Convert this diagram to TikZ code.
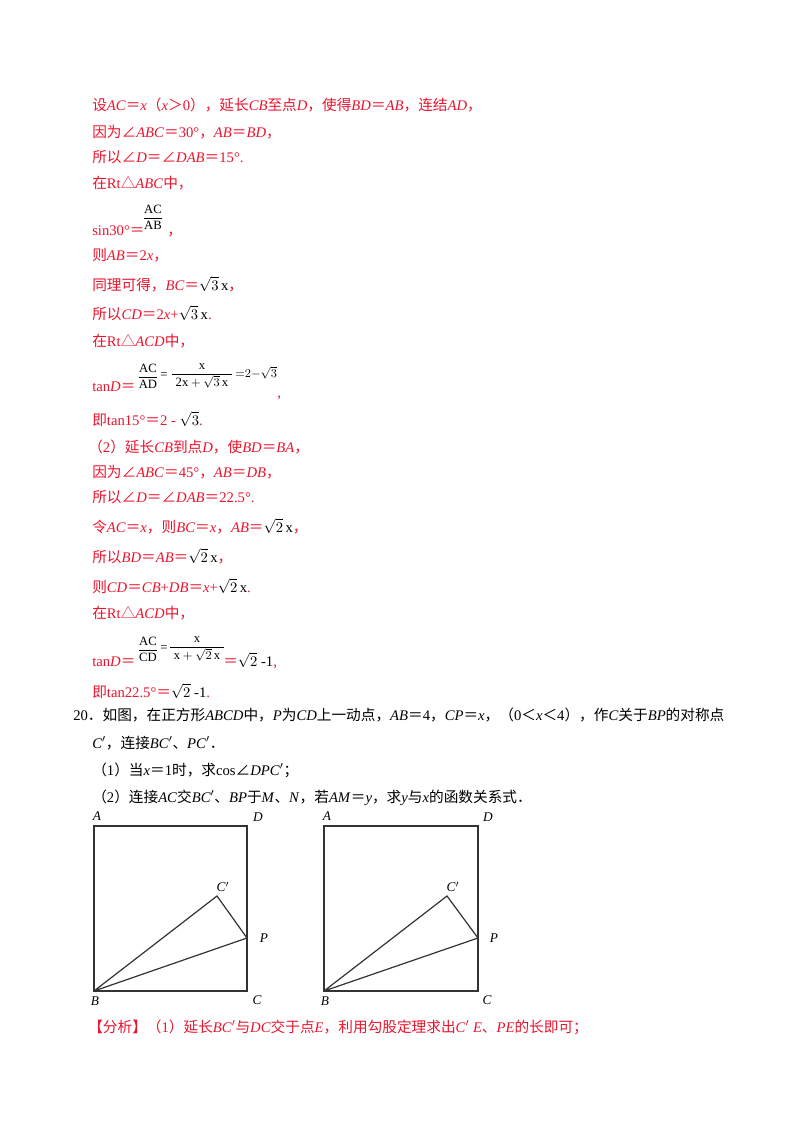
\documentclass[tikz,border=0pt]{standalone}
\usepackage{fontspec}
\setmainfont{Liberation Serif}
\newfontfamily\cjk{Noto Sans CJK SC}
\newcommand\zh[1]{{\cjk #1}}
\newcommand\zi[1]{\textit{#1}}
\newcommand\blk[1]{{\color{black}#1}}
\definecolor{ans}{RGB}{235,20,45}
\begin{document}
\begin{tikzpicture}[x=0.75pt,y=-0.75pt,
  tl/.style={anchor=base west,inner sep=0pt,font=\fontsize{11pt}{12pt}\selectfont},
  rt/.style={tl,text=ans},
  bt/.style={tl,text=black},
  fr/.style={anchor=center,inner sep=0pt,font=\fontsize{9.5pt}{10pt}\selectfont,text=black},
  lab/.style={inner sep=0pt,font=\fontsize{10pt}{12pt}\selectfont\itshape,text=black},
  edge/.style={draw=black!80,line width=0.9pt}]
\useasboundingbox (0,0) rectangle (800,1132);
\fill[white] (0,0) rectangle (800,1132);
% part 1
\node[rt] (l1) at (92,110) {\zh{设}\zi{AC}\zh{＝}\zi{x}\zh{（}\zi{x}\zh{＞}0\zh{），延长}\zi{CB}\zh{至点}\zi{D}\zh{，使得}\zi{BD}\zh{＝}\zi{AB}\zh{，连结}\zi{AD}\zh{，}};
\node[rt] (l2) at (92,137) {\zh{因为∠}\zi{ABC}\zh{＝}30°\zh{，}\zi{AB}\zh{＝}\zi{BD}\zh{，}};
\node[rt] (l3) at (92,162) {\zh{所以∠}\zi{D}\zh{＝∠}\zi{DAB}\zh{＝}15°.};
\node[rt] (l4) at (92,188) {\zh{在}Rt\zh{△}\zi{ABC}\zh{中，}};
\node[rt] (l5) at (92,235) {sin30°\zh{＝}};
\node[fr] (f1) at (153,217) {$\displaystyle\frac{\mathrm{AC}}{\mathrm{AB}}$};
\node[rt] (l5c) at (167,235) {\zh{，}};
\node[rt] (l6) at (92,260) {\zh{则}\zi{AB}\zh{＝}2\zi{x}\zh{，}};
\node[rt] (l7) at (92,290) {\zh{同理可得，}\zi{BC}\zh{＝}\blk{$\sqrt{3}$\,x}\zh{，}};
\node[rt] (l8) at (92,319) {\zh{所以}\zi{CD}\zh{＝}2\zi{x}+\blk{$\sqrt{3}$\,x}.};
\node[rt] (l9) at (92,346) {\zh{在}Rt\zh{△}\zi{ACD}\zh{中，}};
\node[rt] (l10) at (92,391) {tan\zi{D}\zh{＝}};
\node[fr] (f2a) at (148,376) {$\displaystyle\frac{\mathrm{AC}}{\mathrm{AD}}$};
\node[fr] (f2e) at (164,376) {=};
\node[fr] (f2b) at (202,376) {$\displaystyle\frac{\mathrm{x}}{\;\mathrm{2x}+\sqrt{3}\,\mathrm{x}\;}$};
\node[fr,anchor=west] (f2c) at (235,373) {${=}2{-}\sqrt{3}$};
\node[rt] (l10c) at (277,397) {,};
\node[rt] (l11) at (92,425) {\zh{即}tan15°\zh{＝}2 - \blk{$\sqrt{3}$}.};
% part 2
\node[rt] (m1) at (88,452) {\zh{（}2\zh{）延长}\zi{CB}\zh{到点}\zi{D}\zh{，使}\zi{BD}\zh{＝}\zi{BA}\zh{，}};
\node[rt] (m2) at (92,477) {\zh{因为∠}\zi{ABC}\zh{＝}45°\zh{，}\zi{AB}\zh{＝}\zi{DB}\zh{，}};
\node[rt] (m3) at (92,502) {\zh{所以∠}\zi{D}\zh{＝∠}\zi{DAB}\zh{＝}22.5°.};
\node[rt] (m4) at (92,532) {\zh{令}\zi{AC}\zh{＝}\zi{x}\zh{，则}\zi{BC}\zh{＝}\zi{x}\zh{，}\zi{AB}\zh{＝}\blk{$\sqrt{2}$\,x}\zh{，}};
\node[rt] (m5) at (92,562) {\zh{所以}\zi{BD}\zh{＝}\zi{AB}\zh{＝}\blk{$\sqrt{2}$\,x}\zh{，}};
\node[rt] (m6) at (92,592) {\zh{则}\zi{CD}\zh{＝}\zi{CB}+\zi{DB}\zh{＝}\zi{x}+\blk{$\sqrt{2}$\,x}.};
\node[rt] (m7) at (92,618) {\zh{在}Rt\zh{△}\zi{ACD}\zh{中，}};
\node[rt] (m8) at (92,666) {tan\zi{D}\zh{＝}};
\node[fr] (f3a) at (148,649) {$\displaystyle\frac{\mathrm{AC}}{\mathrm{CD}}$};
\node[fr] (f3e) at (164,649) {=};
\node[fr] (f3b) at (197,649) {$\displaystyle\frac{\mathrm{x}}{\;\mathrm{x}+\sqrt{2}\,\mathrm{x}\;}$};
\node[rt] (m8b) at (223,666) {\zh{＝}\blk{$\sqrt{2}$ -1},};
\node[rt] (m9) at (92,697) {\zh{即}tan22.5°\zh{＝}\blk{$\sqrt{2}$ -1}.};
% problem 20
\node[bt] (p1) at (73,720) {20\zh{．如图，在正方形}\zi{ABCD}\zh{中，}\zi{P}\zh{为}\zi{CD}\zh{上一动点，}\zi{AB}\zh{＝}4\zh{，}\zi{CP}\zh{＝}\zi{x}\zh{，（}0\zh{＜}\zi{x}\zh{＜}4\zh{），作}\zi{C}\zh{关于}\zi{BP}\zh{的对称点}};
\node[bt] (p2) at (92,748) {\zi{C}$'$\zh{，连接}\zi{BC}$'$\zh{、}\zi{PC}$'$\zh{．}};
\node[bt] (p3) at (92,775) {\zh{（}1\zh{）当}\zi{x}\zh{＝}1\zh{时，求}cos\zh{∠}\zi{DPC}$'$\zh{；}};
\node[bt] (p4) at (92,802) {\zh{（}2\zh{）连接}\zi{AC}\zh{交}\zi{BC}$'$\zh{、}\zi{BP}\zh{于}\zi{M}\zh{、}\zi{N}\zh{，若}\zi{AM}\zh{＝}\zi{y}\zh{，求}\zi{y}\zh{与}\zi{x}\zh{的函数关系式．}};
% figure 1
\coordinate (A1) at (94,826); \coordinate (D1) at (247,826);
\coordinate (C1) at (247,991); \coordinate (B1) at (94,991);
\coordinate (Q1) at (217,896); \coordinate (P1) at (247,938);
\draw[edge] (A1) -- (D1) -- (C1) -- (B1) -- cycle;
\draw[edge] (B1) -- (Q1) -- (P1) -- (B1);
\node[lab] (tA1) at (97,816) {A};
\node[lab] (tD1) at (258,817) {D};
\node[lab] (tQ1) at (223,887) {C$'$};
\node[lab] (tP1) at (264,938) {P};
\node[lab] (tB1) at (95,1001) {B};
\node[lab] (tC1) at (257,1000) {C};
% figure 2
\coordinate (A2) at (324,826); \coordinate (D2) at (478,826);
\coordinate (C2) at (478,991); \coordinate (B2) at (324,991);
\coordinate (Q2) at (447,896); \coordinate (P2) at (478,938);
\draw[edge] (A2) -- (D2) -- (C2) -- (B2) -- cycle;
\draw[edge] (B2) -- (Q2) -- (P2) -- (B2);
\node[lab] (tA2) at (327,816) {A};
\node[lab] (tD2) at (488,817) {D};
\node[lab] (tQ2) at (453,887) {C$'$};
\node[lab] (tP2) at (494,938) {P};
\node[lab] (tB2) at (325,1001) {B};
\node[lab] (tC2) at (487,1000) {C};
% analysis
\node[rt] (an) at (88,1032) {\zh{【分析】（}1\zh{）延长}\zi{BC}$'$\zh{与}\zi{DC}\zh{交于点}\zi{E}\zh{，利用勾股定理求出}\zi{C}$'$ \zi{E}\zh{、}\zi{PE}\zh{的长即可；}};
\end{tikzpicture}
\end{document}
